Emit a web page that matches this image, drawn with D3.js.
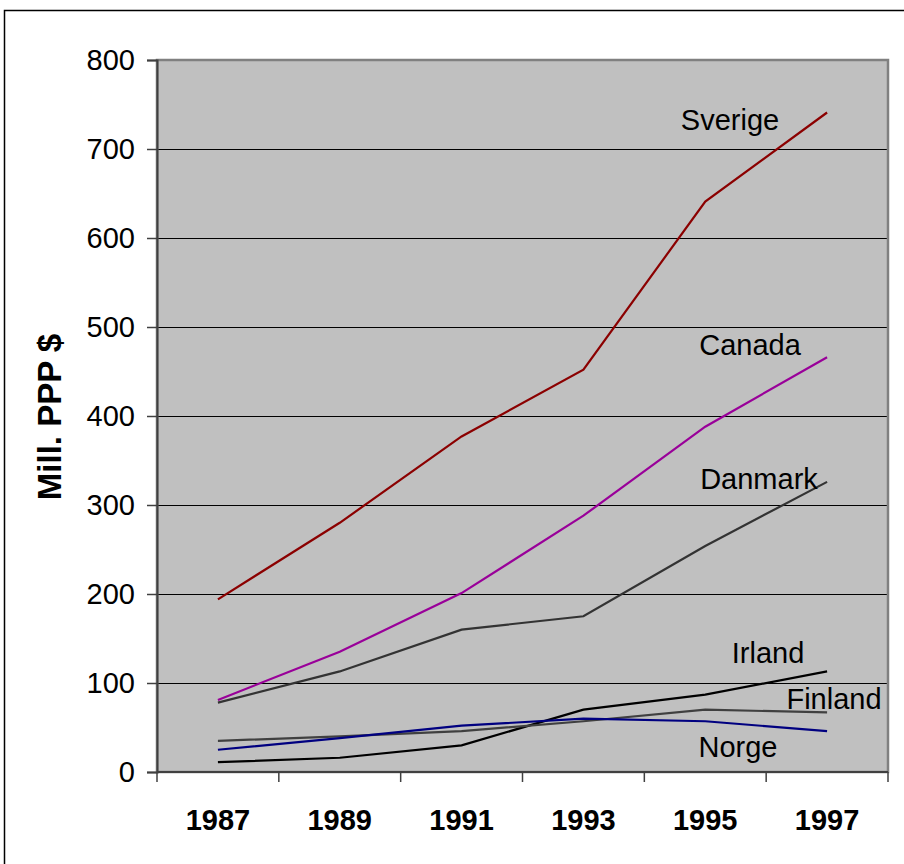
<!DOCTYPE html>
<html>
<head>
<meta charset="utf-8">
<script src="https://cdn.jsdelivr.net/npm/d3@7"></script>
<style>
  body { margin: 0; background: #fff; }
  svg { display: block; font-family: "Liberation Sans", Arial, sans-serif; }
</style>
</head>
<body>
<svg></svg>
<script>
var years = ["1987", "1989", "1991", "1993", "1995", "1997"];
var yTicks = [0, 100, 200, 300, 400, 500, 600, 700, 800];

var sverige = [194, 280, 377, 452, 641, 741];
var canada = [81, 135, 201, 288, 388, 466];
var danmark = [78, 113, 160, 175, 254, 326];
var irland = [11, 16, 30, 70, 87, 113];
var finland = [35, 40, 46, 57, 70, 67];
var norge = [25, 38, 52, 60, 57, 46];

var seriesNames = ["Sverige", "Canada", "Danmark", "Irland", "Finland", "Norge"];

var width = 904;
var height = 864;
/* plot area edges */
var plotLeft = 157, plotRight = 888, plotTop = 60, plotBottom = 772;

var svg = d3.select("svg").attr("width", width).attr("height", height);

/* outer frame: only top and left edges are visible */
svg.append("path")
  .attr("d", "M4.5," + height + "V10.5H" + width)
  .attr("fill", "none")
  .attr("stroke", "#000")
  .attr("stroke-width", 1.5);

var x = d3.scaleBand().domain(years).range([plotLeft, plotRight]);
var y = d3.scaleLinear().domain([0, 800]).range([plotBottom, plotTop]);

svg.append("rect")
  .attr("x", plotLeft).attr("y", plotTop)
  .attr("width", plotRight - plotLeft).attr("height", plotBottom - plotTop)
  .attr("fill", "#c0c0c0");

/* gridlines */
svg.append("g")
  .selectAll("line")
  .data(yTicks.filter((d) => d > 0 && d < 800))
  .enter()
  .append("line")
  .attr("x1", plotLeft).attr("x2", plotRight)
  .attr("y1", (d) => Math.round(y(d)) + 0.5)
  .attr("y2", (d) => Math.round(y(d)) + 0.5)
  .attr("stroke", "#000")
  .attr("stroke-width", 1);

/* plot border */
svg.append("rect")
  .attr("x", plotLeft).attr("y", plotTop)
  .attr("width", plotRight - plotLeft).attr("height", plotBottom - plotTop)
  .attr("fill", "none")
  .attr("stroke", "#808080")
  .attr("stroke-width", 2.5);

/* y axis */
var yAxis = d3.axisLeft(y).tickValues(yTicks).tickSize(10).tickPadding(12);
var gy = svg.append("g")
  .attr("transform", "translate(" + plotLeft + ",0)")
  .call(yAxis);
gy.select(".domain").attr("stroke", "#404040").attr("stroke-width", 2);
gy.selectAll(".tick line").attr("stroke", "#404040").attr("stroke-width", 1.5);
gy.selectAll("text").attr("font-size", 29).attr("fill", "#000")
  .attr("font-family", "Liberation Sans, Arial, sans-serif");

/* x axis: ticks sit between categories */
var gx = svg.append("g").attr("transform", "translate(0," + plotBottom + ")");
gx.append("line")
  .attr("x1", plotLeft).attr("x2", plotRight)
  .attr("stroke", "#404040").attr("stroke-width", 2);
var bounds = years.map((d) => x(d)).concat([plotRight]);
gx.selectAll("line.tk")
  .data(bounds)
  .enter()
  .append("line")
  .attr("class", "tk")
  .attr("x1", (d) => d).attr("x2", (d) => d)
  .attr("y1", 0).attr("y2", 10)
  .attr("stroke", "#404040").attr("stroke-width", 1.5);
gx.selectAll("text")
  .data(years)
  .enter()
  .append("text")
  .attr("x", (d) => x(d) + x.bandwidth() / 2)
  .attr("y", 58)
  .attr("text-anchor", "middle")
  .attr("font-size", 29)
  .attr("font-weight", "bold")
  .text((d) => d);

/* y title */
svg.append("text")
  .attr("transform", "translate(61,417) rotate(-90)")
  .attr("text-anchor", "middle")
  .attr("font-size", 33)
  .attr("font-weight", "bold")
  .text("Mill. PPP $");

/* lines */
var series = [
  { name: "Sverige", values: sverige, color: "#8b0000", lx: 730, ly: 130 },
  { name: "Canada", values: canada, color: "#990099", lx: 750, ly: 355 },
  { name: "Danmark", values: danmark, color: "#333333", lx: 759, ly: 489 },
  { name: "Irland", values: irland, color: "#000000", lx: 768, ly: 663 },
  { name: "Finland", values: finland, color: "#404040", lx: 834, ly: 709 },
  { name: "Norge", values: norge, color: "#000080", lx: 738, ly: 757 },
];

var line = d3.line()
  .x((d, i) => x(years[i]) + x.bandwidth() / 2)
  .y((d) => y(d));

svg.append("g")
  .selectAll("path")
  .data(series)
  .enter()
  .append("path")
  .attr("d", (s) => line(s.values))
  .attr("fill", "none")
  .attr("stroke", (s) => s.color)
  .attr("stroke-width", 2.2);

svg.append("g")
  .selectAll("text")
  .data(series)
  .enter()
  .append("text")
  .attr("x", (s) => s.lx)
  .attr("y", (s) => s.ly)
  .attr("text-anchor", "middle")
  .attr("font-size", 29)
  .attr("fill", "#000")
  .text((s) => s.name);
</script>
</body>
</html>
